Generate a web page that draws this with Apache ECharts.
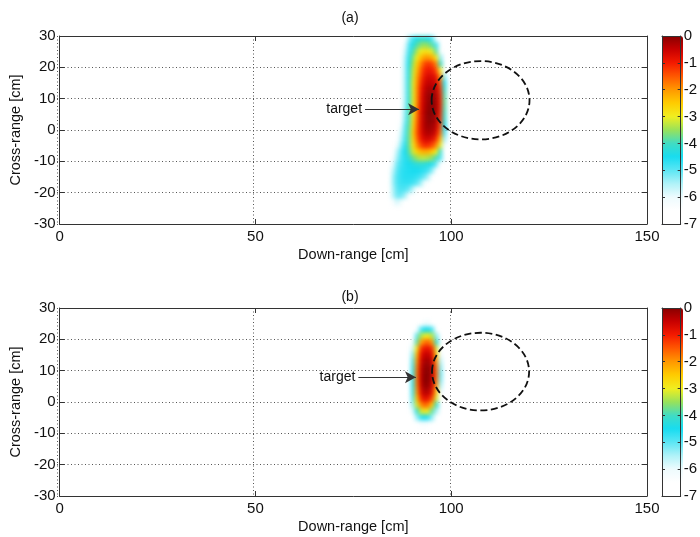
<!DOCTYPE html>
<html><head><meta charset="utf-8">
<script src="https://cdn.jsdelivr.net/npm/echarts@6/dist/echarts.min.js"></script>
<style>
html,body{margin:0;padding:0;background:#fff;}
.layer{position:absolute;left:0;top:0;width:700px;height:537px;}
#heat{filter:blur(1.9px);}
</style></head><body>
<div id="lines" class="layer"></div>
<div id="heat" class="layer"></div>
<div id="front" class="layer"></div>
<script>
// ---------- data ----------
const downRangeTicks = [0, 50, 100, 150];
const crossRangeTicks = [-30, -20, -10, 0, 10, 20, 30];
const dbTicks = [-7, -6, -5, -4, -3, -2, -1, 0];
const panelTitles = ['(a)', '(b)'];
const xName = 'Down-range [cm]';
const yName = 'Cross-range [cm]';
const arrowText = 'target';
const cellWidthCm = 1;
const cellHeightCm = 2;

// image (a) in dB: rows from top (y centre 29) downwards, columns from x = 84 cm, 1 cm wide
const blobA_left = 84;
const blobA_topRow = 29;
const blobA = [
  [-7,-7,-7,-7,-6.8,-5.4,-4.8,-4.4,-4.2,-4.2,-4.4,-4.9,-6.2,-7,-7,-7],
  [-7,-7,-7,-7,-6.0,-5.0,-4.4,-3.9,-3.6,-3.5,-3.6,-3.9,-4.9,-7,-7,-7],
  [-7,-7,-7,-7,-5.8,-4.8,-4.0,-3.4,-3.0,-2.8,-2.85,-3.1,-3.9,-6.2,-7,-7],
  [-7,-7,-7,-7,-5.6,-4.6,-3.7,-3.0,-2.4,-2.05,-2.0,-2.2,-2.9,-5.3,-7,-7],
  [-7,-7,-7,-6.9,-5.5,-4.5,-3.5,-2.6,-1.9,-1.35,-1.2,-1.3,-1.9,-4.0,-7,-7],
  [-7,-7,-7,-6.9,-5.5,-4.4,-3.3,-2.4,-1.6,-1.05,-0.9,-0.95,-1.4,-3.0,-6.3,-7],
  [-7,-7,-7,-6.9,-5.5,-4.4,-3.2,-2.2,-1.4,-0.85,-0.65,-0.65,-0.9,-2.0,-5.3,-7],
  [-7,-7,-7,-6.9,-5.5,-4.3,-3.1,-2.1,-1.2,-0.65,-0.45,-0.45,-0.6,-1.5,-4.6,-7],
  [-7,-7,-7,-6.9,-5.5,-4.3,-3.1,-2.0,-1.05,-0.5,-0.25,-0.25,-0.4,-1.2,-4.1,-7],
  [-7,-7,-7,-6.9,-5.5,-4.3,-3.1,-2.0,-0.95,-0.4,-0.12,-0.1,-0.25,-1.05,-3.9,-7],
  [-7,-7,-7,-6.8,-5.5,-4.3,-3.1,-2.0,-0.9,-0.4,-0.1,0,-0.2,-1.0,-3.8,-7],
  [-7,-7,-7,-6.7,-5.4,-4.2,-3.0,-1.9,-0.85,-0.35,-0.05,0,-0.2,-1.0,-3.9,-7],
  [-7,-7,-7,-6.6,-5.3,-4.1,-2.9,-1.8,-0.8,-0.3,0,0,-0.25,-1.1,-4.0,-7],
  [-7,-7,-7,-6.4,-5.2,-4.0,-2.8,-1.7,-0.8,-0.3,-0.05,-0.05,-0.3,-1.2,-4.2,-7],
  [-7,-7,-6.9,-6.1,-5.0,-3.9,-2.7,-1.6,-0.8,-0.3,-0.15,-0.2,-0.45,-1.4,-4.5,-7],
  [-7,-7,-6.7,-5.8,-4.9,-3.8,-2.6,-1.5,-0.85,-0.4,-0.3,-0.35,-0.7,-1.7,-4.9,-7],
  [-7,-7,-6.5,-5.6,-4.8,-3.8,-2.7,-1.7,-1.0,-0.65,-0.6,-0.75,-1.2,-2.3,-5.4,-7],
  [-7,-6.9,-6.1,-5.3,-4.6,-3.8,-2.9,-2.0,-1.4,-1.1,-1.15,-1.35,-1.9,-3.1,-6.0,-7],
  [-7,-6.6,-5.6,-5.0,-4.5,-3.9,-3.2,-2.6,-2.3,-2.2,-2.25,-2.5,-3.0,-4.2,-6.7,-7],
  [-7,-6.3,-5.4,-4.9,-4.6,-4.2,-3.8,-3.5,-3.3,-3.3,-3.4,-3.6,-4.0,-5.0,-7,-7],
  [-7,-5.9,-5.1,-4.8,-4.6,-4.5,-4.35,-4.25,-4.2,-4.25,-4.35,-4.6,-5.1,-6.4,-7,-7],
  [-6.9,-5.6,-5.0,-4.7,-4.6,-4.55,-4.5,-4.5,-4.55,-4.65,-4.85,-5.3,-6.4,-7,-7,-7],
  [-6.8,-5.4,-4.9,-4.7,-4.6,-4.6,-4.6,-4.7,-4.85,-5.1,-5.6,-6.7,-7,-7,-7,-7],
  [-6.8,-5.4,-4.9,-4.75,-4.7,-4.7,-4.8,-5.0,-5.4,-6.2,-7,-7,-7,-7,-7,-7],
  [-6.8,-5.5,-5.0,-4.85,-4.9,-5.1,-5.6,-6.6,-7,-7,-7,-7,-7,-7,-7,-7],
  [-6.9,-5.6,-5.1,-5.1,-5.4,-6.3,-7,-7,-7,-7,-7,-7,-7,-7,-7,-7],
  [-7,-6.3,-5.8,-6.1,-6.9,-7,-7,-7,-7,-7,-7,-7,-7,-7,-7,-7]
];

// image (b) in dB: rows from top (y centre 25) downwards, columns from x = 89 cm
const blobB_left = 89;
const blobB_topRow = 25;
const blobB = [
  [-7,-7,-7,-6.7,-6.1,-6.0,-6.5,-7,-7],
  [-7,-7,-6.4,-5.0,-4.5,-4.4,-4.9,-6.5,-7],
  [-7,-6.8,-5.0,-3.5,-3.0,-2.9,-3.4,-5.3,-7],
  [-7,-6.2,-3.9,-2.2,-1.7,-1.6,-2.1,-4.2,-7],
  [-7,-5.7,-3.0,-1.3,-0.9,-0.85,-1.2,-3.2,-6.5],
  [-7,-5.2,-2.4,-0.9,-0.5,-0.45,-0.8,-2.5,-6.0],
  [-7,-4.9,-2.1,-0.7,-0.25,-0.2,-0.55,-2.0,-5.6],
  [-6.9,-4.7,-1.9,-0.55,-0.1,-0.05,-0.4,-1.7,-5.3],
  [-6.8,-4.6,-1.8,-0.5,-0.05,0,-0.4,-1.6,-5.1],
  [-6.8,-4.6,-1.8,-0.5,0,-0.05,-0.45,-1.7,-5.2],
  [-6.8,-4.6,-1.9,-0.6,-0.1,-0.15,-0.6,-2.0,-5.5],
  [-6.9,-4.7,-2.1,-0.8,-0.35,-0.4,-0.9,-2.5,-6.0],
  [-7,-4.9,-2.5,-1.2,-0.8,-0.9,-1.5,-3.2,-6.6],
  [-7,-5.3,-3.2,-2.0,-1.6,-1.8,-2.5,-4.2,-7],
  [-7,-5.9,-4.3,-3.2,-2.9,-3.1,-3.9,-5.5,-7],
  [-7,-6.6,-5.4,-4.7,-4.5,-4.7,-5.4,-6.7,-7],
  [-7,-7,-6.8,-6.3,-6.2,-6.4,-7,-7,-7]
];

// dashed target outline: [centre x, centre y, radius] (cm)
const circleA = [107.5, 9.5, 12.5];
const circleB = [107.5, 9.7, 12.4];
// arrows: [x start, x tip, y] (cm)
const arrowA = [78.0, 91.8, 6.6];
const arrowB = [76.3, 91.0, 7.9];

const colormap = ['#ffffff','#ffffff','#eefbfd','#b0f2f8','#5ce6f4','#18dcf0','#40dcc4','#98e25a',
                  '#f0ee20','#ffcc00','#ff9800','#ff5800','#f41a00','#c80000','#880000'];

// ---------- layout ----------
const FONT = 'Liberation Sans, Arial, Helvetica, sans-serif';
const gridA = {left: 57, top: 36, width: 590, height: 188};
const gridB = {left: 57, top: 308, width: 590, height: 188};
const gridCA = {left: 662, top: 36, width: 21, height: 188};
const gridCB = {left: 662, top: 308, width: 21, height: 188};
const AXC = '#333';
const xMin = downRangeTicks[0], xMax = downRangeTicks[downRangeTicks.length - 1];
const yMin = crossRangeTicks[0], yMax = crossRangeTicks[crossRangeTicks.length - 1];

// category cells for the image layer
const xCells = [];
for (let x = xMin; x < xMax; x += cellWidthCm) xCells.push(String(x + cellWidthCm / 2));
const yCells = [];
for (let y = yMin; y < yMax; y += cellHeightCm) yCells.push(String(y + cellHeightCm / 2));

function toCells(rows, left, topRow) {
  const out = [];
  rows.forEach(function (row, r) {
    const yc = topRow - r * cellHeightCm;
    const yi = Math.round((yc - (yMin + cellHeightCm / 2)) / cellHeightCm);
    row.forEach(function (v, c) {
      if (v > dbTicks[0]) out.push([Math.round((left - xMin) / cellWidthCm) + c, yi, v]);
    });
  });
  return out;
}

// ---------- layer 1: dotted grid lines ----------
const lines = echarts.init(document.getElementById('lines'), null, {renderer: 'canvas'});
function gridAxisX(i) {
  return {type: 'value', gridIndex: i, min: xMin, max: xMax, interval: downRangeTicks[1] - downRangeTicks[0],
    axisLine: {show: false}, axisTick: {show: false}, axisLabel: {show: false},
    splitLine: {show: true, lineStyle: {color: '#555', width: 1, type: [1, 2.5]}}};
}
function gridAxisY(i) {
  return {type: 'value', gridIndex: i, min: yMin, max: yMax, interval: crossRangeTicks[1] - crossRangeTicks[0],
    axisLine: {show: false}, axisTick: {show: false}, axisLabel: {show: false},
    splitLine: {show: true, lineStyle: {color: '#555', width: 1, type: [1, 2.5]}}};
}
lines.setOption({
  animation: false,
  grid: [gridA, gridB],
  xAxis: [gridAxisX(0), gridAxisX(1)],
  yAxis: [gridAxisY(0), gridAxisY(1)],
  series: []
});

// ---------- layer 2: images ----------
const heat = echarts.init(document.getElementById('heat'), null, {renderer: 'canvas'});
heat.setOption({
  animation: false,
  grid: [gridA, gridB],
  xAxis: [0, 1].map(function (i) { return {type: 'category', gridIndex: i, data: xCells, show: false}; }),
  yAxis: [0, 1].map(function (i) { return {type: 'category', gridIndex: i, data: yCells, show: false}; }),
  visualMap: {type: 'continuous', min: dbTicks[0], max: dbTicks[dbTicks.length - 1], dimension: 2,
    show: false, inRange: {color: colormap}},
  series: [
    {type: 'heatmap', xAxisIndex: 0, yAxisIndex: 0, data: toCells(blobA, blobA_left, blobA_topRow)},
    {type: 'heatmap', xAxisIndex: 1, yAxisIndex: 1, data: toCells(blobB, blobB_left, blobB_topRow)}
  ]
});

// ---------- layer 3: axes, annotations, colour bars ----------
const front = echarts.init(document.getElementById('front'), null, {renderer: 'canvas'});
function xAx(grid, pos, labels) {
  return {type: 'value', gridIndex: grid, position: pos, min: xMin, max: xMax,
    interval: downRangeTicks[1] - downRangeTicks[0],
    axisLine: {show: true, onZero: false, lineStyle: {color: AXC, width: 1}},
    axisTick: {show: true, inside: true, length: 5, lineStyle: {color: AXC}},
    axisLabel: {show: labels, fontSize: 15, color: '#111', margin: 5, fontFamily: FONT},
    splitLine: {show: false},
    name: labels ? xName : '', nameLocation: 'middle', nameGap: 23,
    nameTextStyle: {fontSize: 14.5, color: '#111', fontFamily: FONT}};
}
function yAx(grid, pos, labels) {
  return {type: 'value', gridIndex: grid, position: pos, min: yMin, max: yMax,
    interval: crossRangeTicks[1] - crossRangeTicks[0],
    axisLine: {show: true, onZero: false, lineStyle: {color: AXC, width: 1}},
    axisTick: {show: true, inside: true, length: 5, lineStyle: {color: AXC}},
    axisLabel: {show: labels, fontSize: 15, color: '#111', margin: 4, fontFamily: FONT},
    splitLine: {show: false},
    name: labels ? yName : '', nameLocation: 'middle', nameGap: 31,
    nameTextStyle: {fontSize: 14.5, color: '#111', fontFamily: FONT}};
}
function cbX(grid, pos) {
  return {type: 'value', gridIndex: grid, position: pos, min: 0, max: 1, z: 10,
    axisLine: {show: true, onZero: false, lineStyle: {color: AXC, width: 1}},
    axisTick: {show: false}, axisLabel: {show: false}, splitLine: {show: false}};
}
function cbY(grid, pos, labels) {
  return {type: 'value', gridIndex: grid, position: pos, min: dbTicks[0], max: dbTicks[dbTicks.length - 1],
    interval: dbTicks[1] - dbTicks[0], z: 10,
    axisLine: {show: true, onZero: false, lineStyle: {color: AXC, width: 1}},
    axisTick: {show: true, inside: true, length: 3, lineStyle: {color: AXC}},
    axisLabel: {show: labels, fontSize: 15, color: '#111', margin: 3, fontFamily: FONT},
    splitLine: {show: false}};
}
function circleSeries(xi, yi, circle, arrow) {
  return {
    type: 'custom', xAxisIndex: xi, yAxisIndex: yi, silent: true, clip: false, z: 5,
    data: [circle],
    renderItem: function (params, api) {
      const c = api.coord([api.value(0), api.value(1)]);
      const s = api.size([api.value(2), api.value(2)]);
      return {type: 'ellipse', shape: {cx: c[0], cy: c[1], rx: s[0], ry: s[1]},
        style: {fill: 'none', stroke: '#111', lineWidth: 1.8, lineDash: [7, 3.5]}};
    },
    markLine: {
      silent: true, animation: false,
      symbol: ['none', 'arrow'], symbolSize: [9, 11],
      lineStyle: {color: '#333', width: 1, type: 'solid'},
      label: {show: true, position: 'start', formatter: arrowText, fontSize: 14, color: '#111',
        distance: 3, fontFamily: FONT},
      data: [[{coord: [arrow[0], arrow[2]]}, {coord: [arrow[1], arrow[2]]}]]
    }
  };
}
function colorBar(grid) {
  return {type: 'continuous', seriesIndex: [], min: dbTicks[0], max: dbTicks[dbTicks.length - 1],
    orient: 'vertical', left: grid.left, top: grid.top, itemWidth: grid.width, itemHeight: grid.height,
    padding: 0, calculable: false, showLabel: false, hoverLink: false, inRange: {color: colormap}};
}
front.setOption({
  animation: false,
  textStyle: {fontFamily: FONT},
  title: [
    {text: panelTitles[0], left: 'center', top: 6, textStyle: {fontSize: 14, fontWeight: 'normal', color: '#111', fontFamily: FONT}},
    {text: panelTitles[1], left: 'center', top: 285, textStyle: {fontSize: 14, fontWeight: 'normal', color: '#111', fontFamily: FONT}}
  ],
  grid: [gridA, gridB, gridCA, gridCB],
  xAxis: [xAx(0, 'bottom', true), xAx(0, 'top', false), xAx(1, 'bottom', true), xAx(1, 'top', false),
          cbX(2, 'bottom'), cbX(2, 'top'), cbX(3, 'bottom'), cbX(3, 'top')],
  yAxis: [yAx(0, 'left', true), yAx(0, 'right', false), yAx(1, 'left', true), yAx(1, 'right', false),
          cbY(2, 'right', true), cbY(2, 'left', false), cbY(3, 'right', true), cbY(3, 'left', false)],
  visualMap: [colorBar(gridCA), colorBar(gridCB)],
  series: [circleSeries(0, 0, circleA, arrowA), circleSeries(2, 2, circleB, arrowB)]
});
</script></body></html>
